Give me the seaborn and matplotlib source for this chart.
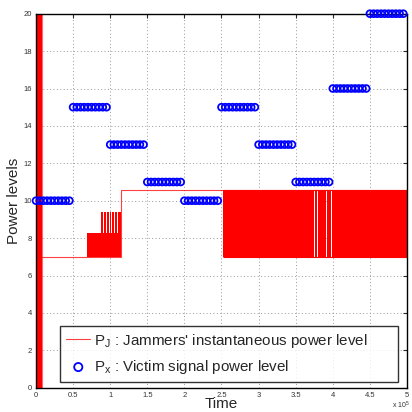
import numpy as np
import pandas as pd
import matplotlib
matplotlib.use('Agg')
import matplotlib.pyplot as plt
import seaborn as sns

# victim signal: one power level per 0.5e5 slot, 10 samples per slot
victim_levels = [10, 15, 13, 11, 10, 15, 13, 11, 16, 20]
slot_len = 0.5e5
samples_per_slot = 10

# jammer: step line (steps-post) plus dense switching regions
jam_step_t = [0.075e5, 1.144e5, 2.518e5, 5.0e5]
jam_step_p = [7.0, 10.57, 10.57, 10.57]
# (t_start, t_end, low, high) for the fast-switching bursts
jam_bursts = [
    (0.0, 0.075e5, 0.0, 20.0),
    (0.694e5, 1.144e5, 7.0, 8.29),
    (0.878e5, 0.909e5, 8.29, 9.41),
    (0.921e5, 0.944e5, 8.29, 9.41),
    (0.956e5, 0.980e5, 8.29, 9.41),
    (0.992e5, 1.017e5, 8.29, 9.41),
    (1.029e5, 1.052e5, 8.29, 9.41),
    (1.064e5, 1.089e5, 8.29, 9.41),
    (1.101e5, 1.140e5, 8.29, 9.41),
]
block_span = (2.518e5, 5.0e5, 7.0, 10.57)
block_gaps = [2.545e5, 2.572e5, 3.757e5, 3.793e5, 3.828e5, 3.869e5,
              3.915e5, 3.95e5, 3.986e5]
gap_w = 0.008e5

xtick_vals = [0, 0.5, 1, 1.5, 2, 2.5, 3, 3.5, 4, 4.5, 5]
xtick_lbls = ['0', '0.5', '1', '1.5', '2', '2.5', '3', '3.5', '4', '4.5', '5']
ytick_vals = [0, 2, 4, 6, 8, 10, 12, 14, 16, 18, 20]

sns.set_style('white')
plt.rcParams['font.family'] = ['Liberation Sans', 'DejaVu Sans']
plt.rcParams['mathtext.default'] = 'regular'

fig = plt.figure(figsize=(4.12, 4.12), dpi=100)
ax = fig.add_axes([36/412, 24.3/412, 371/412, 374/412])

# build dataframes
vic_t = []
vic_p = []
for i, lv in enumerate(victim_levels):
    for k in range(samples_per_slot):
        vic_t.append(i*slot_len + k*slot_len/samples_per_slot)
        vic_p.append(lv)
victim = pd.DataFrame({'t': vic_t, 'p': vic_p})
jam = pd.DataFrame({'t': jam_step_t, 'p': jam_step_p})

red = '#ff0000'
for t0, t1, lo, hi in jam_bursts:
    ax.fill_between([t0, t1], lo, hi, color=red, lw=0, zorder=2)

# main switching block split at the gaps
edges = [block_span[0]]
for g in block_gaps:
    edges += [g - gap_w/2, g + gap_w/2]
edges.append(block_span[1])
for a, b in zip(edges[0::2], edges[1::2]):
    ax.fill_between([a, b], block_span[2], block_span[3], color=red, lw=0, zorder=2)
ax.hlines([block_span[2], block_span[3]], block_span[0], block_span[1],
          color=red, lw=0.8, zorder=2)

sns.lineplot(data=jam, x='t', y='p', ax=ax, color=red, lw=0.8, alpha=0.75,
             drawstyle='steps-post', estimator=None, sort=False, zorder=2,
             label=r"P$_J$ : Jammers' instantaneous power level")
ax.plot([0.075e5, 0.075e5], [0, 20], color=red, lw=0.8, alpha=0.6)

sns.scatterplot(data=victim, x='t', y='p', ax=ax, marker='o', s=24,
                facecolor='none', edgecolor='#0000ff', linewidth=1.3,
                zorder=3, clip_on=False,
                label=r'P$_x$ : Victim signal power level')

ax.set_xlim(0, 5e5)
ax.set_ylim(0, 20)
ax.set_xticks([v*1e5 for v in xtick_vals])
ax.set_xticklabels(xtick_lbls)
ax.set_yticks(ytick_vals)
ax.tick_params(direction='in', length=3, width=0.8, labelsize=5.5,
               labelcolor='#333333', top=True, right=True, pad=3)
ax.grid(True, color='#999999', linestyle=(0, (1, 2.5)), linewidth=0.7)
for s in ax.spines.values():
    s.set_color('black')
    s.set_linewidth(1.0)

ax.set_xlabel('Time', fontsize=11, labelpad=-1)
ax.set_ylabel('Power levels', fontsize=11, labelpad=2)
fig.text(410/412, 1/412, r'x 10$^5$', fontsize=5,
         ha='right', va='bottom', color='#333333')

leg = ax.legend(loc='lower left', bbox_to_anchor=(0.065, 0.015, 0.911, 0.152),
                mode='expand', fontsize=10.9,
                frameon=True, fancybox=False, edgecolor='black',
                handlelength=1.6, borderpad=0.4, labelspacing=0.55,
                handletextpad=0.25, markerscale=1.2, borderaxespad=0)
leg.get_frame().set_linewidth(1.0)

fig.savefig('out.png', dpi=100)
